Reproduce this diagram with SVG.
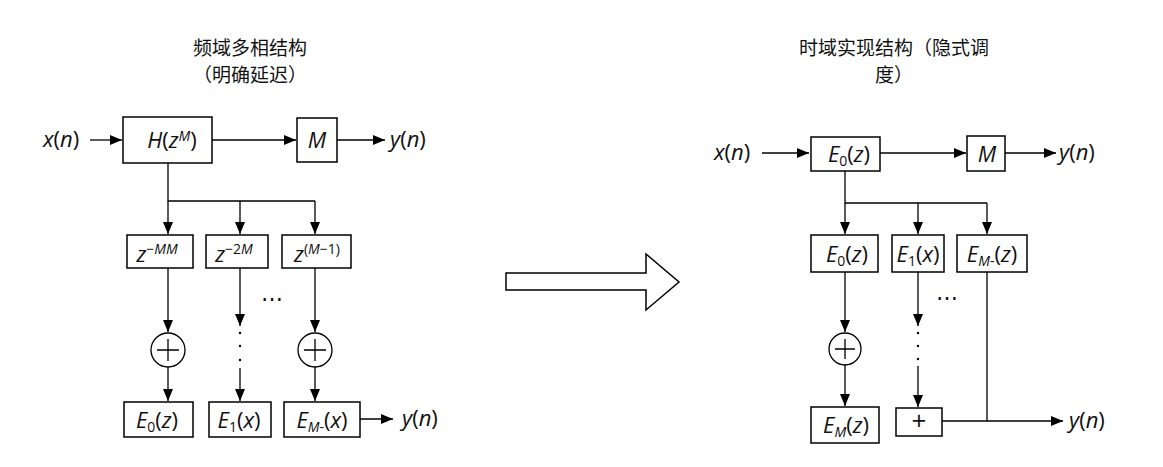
<svg xmlns="http://www.w3.org/2000/svg" width="1163" height="467" viewBox="0 0 1163 467">
<defs>
<marker id="ah" markerUnits="userSpaceOnUse" markerWidth="12" markerHeight="10" refX="12" refY="5" orient="auto">
<path d="M0,0 L12,5 L0,10 z" fill="#000"/>
</marker>
</defs>
<style>
.title{font-family:"Noto Sans CJK SC","Noto Sans",sans-serif;font-size:19px;fill:#111;text-anchor:middle}
.m{font-family:"Open Sans","Liberation Sans",sans-serif;font-size:22px;fill:#111}
.c{text-anchor:middle}
.i{font-style:italic}
.sup{font-size:14px}
.box{fill:#fff;stroke:#000;stroke-width:1.5}
.ln{fill:none;stroke:#000;stroke-width:1.3}
.ar{fill:none;stroke:#000;stroke-width:1.3;marker-end:url(#ah)}
.dot{fill:#000}
</style>

<g id="titles">
<text class="title" x="250" y="55">频域多相结构</text>
<text class="title" x="250" y="82">（明确延迟）</text>
<text class="title" x="894" y="55">时域实现结构（隐式调</text>
<text class="title" x="894" y="82">度）</text>
</g>

<g id="connectors">
<!-- left -->
<line class="ar" x1="90" y1="140" x2="122" y2="140"/>
<line class="ar" x1="212" y1="140" x2="296" y2="140"/>
<line class="ar" x1="337" y1="140" x2="385" y2="140"/>
<polyline class="ln" points="168,163 168,201 315,201"/>
<line class="ar" x1="168" y1="201" x2="168" y2="234"/>
<line class="ar" x1="240" y1="201" x2="240" y2="234"/>
<line class="ar" x1="315" y1="201" x2="315" y2="234"/>
<line class="ar" x1="168" y1="268" x2="168" y2="332"/>
<line class="ar" x1="168" y1="367" x2="168" y2="401"/>
<line class="ar" x1="240" y1="268" x2="240" y2="326"/>
<circle class="dot" cx="240" cy="333" r="1.2"/>
<circle class="dot" cx="240" cy="346" r="1.2"/>
<circle class="dot" cx="240" cy="360" r="1.2"/>
<line class="ar" x1="240" y1="368" x2="240" y2="401"/>
<line class="ar" x1="315" y1="268" x2="315" y2="332"/>
<line class="ar" x1="315" y1="367" x2="315" y2="401"/>
<line class="ar" x1="360" y1="419" x2="393" y2="419"/>
<!-- right -->
<line class="ar" x1="762" y1="153" x2="809" y2="153"/>
<line class="ar" x1="880" y1="153" x2="966" y2="153"/>
<line class="ar" x1="1005" y1="153" x2="1056" y2="153"/>
<polyline class="ln" points="845,171 845,203 987,203"/>
<line class="ar" x1="845" y1="203" x2="845" y2="234"/>
<line class="ar" x1="918" y1="203" x2="918" y2="234"/>
<line class="ar" x1="987" y1="203" x2="987" y2="234"/>
<line class="ar" x1="845" y1="272" x2="845" y2="332"/>
<line class="ar" x1="845" y1="365" x2="845" y2="406"/>
<line class="ar" x1="918" y1="272" x2="918" y2="326"/>
<circle class="dot" cx="918" cy="333" r="1.2"/>
<circle class="dot" cx="918" cy="346" r="1.2"/>
<circle class="dot" cx="918" cy="359" r="1.2"/>
<line class="ar" x1="918" y1="366" x2="918" y2="407"/>
<line class="ln" x1="987" y1="272" x2="987" y2="421"/>
<line class="ar" x1="942" y1="421" x2="1063" y2="421"/>
</g>

<g id="left-io">
<text class="m" x="43" y="147"><tspan class="i">x</tspan>(<tspan class="i">n</tspan>)</text>
<text class="m" x="390" y="147"><tspan class="i">y</tspan>(<tspan class="i">n</tspan>)</text>
<text class="m" x="402" y="426"><tspan class="i">y</tspan>(<tspan class="i">n</tspan>)</text>
</g>

<g id="H">
<rect class="box" x="123" y="117" width="89" height="46"/>
<text class="m c" x="172" y="148"><tspan class="i">H</tspan>(<tspan class="i">z</tspan><tspan class="i sup" dy="-7">M</tspan><tspan dy="7">)</tspan></text>
</g>
<g id="M-left">
<rect class="box" x="297" y="118" width="40" height="44"/>
<text class="m c i" x="317" y="148">M</text>
</g>

<g id="d1">
<rect class="box" x="127" y="235" width="66" height="33"/>
<text class="m c" x="157" y="262"><tspan class="i">z</tspan><tspan class="sup" dy="-8">−</tspan><tspan class="i sup">MM</tspan></text>
</g>
<g id="d2">
<rect class="box" x="206" y="235" width="62" height="33"/>
<text class="m c" x="234" y="262"><tspan class="i">z</tspan><tspan class="sup" dy="-8">−2</tspan><tspan class="i sup">M</tspan></text>
</g>
<g id="d3">
<rect class="box" x="282" y="235" width="69" height="33"/>
<text class="m c" x="317" y="262"><tspan class="i">z</tspan><tspan class="sup" dy="-8">(</tspan><tspan class="i sup">M</tspan><tspan class="sup">−1)</tspan></text>
</g>
<text id="hdots-left" class="m c" x="272" y="306">⋯</text>

<g id="sum-left-1">
<circle cx="168" cy="350" r="17" fill="#fff" stroke="#000" stroke-width="1.3"/>
<path class="ln" d="M157,350 H179 M168,339 V361"/>
</g>
<g id="sum-left-2">
<circle cx="315" cy="350" r="17" fill="#fff" stroke="#000" stroke-width="1.3"/>
<path class="ln" d="M304,350 H326 M315,339 V361"/>
</g>

<g id="e0-left">
<rect class="box" x="124" y="402" width="69" height="35"/>
<text class="m c" x="157" y="428"><tspan class="i">E</tspan><tspan class="sup" dy="4">0</tspan><tspan dy="-4">(</tspan><tspan class="i">z</tspan>)</text>
</g>
<g id="e1-left">
<rect class="box" x="209" y="402" width="62" height="35"/>
<text class="m c" x="239" y="428"><tspan class="i">E</tspan><tspan class="sup" dy="4">1</tspan><tspan dy="-4">(</tspan><tspan class="i">x</tspan>)</text>
</g>
<g id="em-left">
<rect class="box" x="284" y="402" width="76" height="35"/>
<text class="m c" x="322" y="428"><tspan class="i">E</tspan><tspan class="i sup" dy="4">M</tspan><tspan class="sup">-</tspan><tspan dy="-4">(</tspan><tspan class="i">x</tspan>)</text>
</g>

<g id="big-arrow">
<path d="M506,273 H646 V254 L679,282 L646,310 V290 H506 Z" fill="#fff" stroke="#000" stroke-width="1.5"/>
</g>

<g id="right-io">
<text class="m" x="714" y="160"><tspan class="i">x</tspan>(<tspan class="i">n</tspan>)</text>
<text class="m" x="1059" y="160"><tspan class="i">y</tspan>(<tspan class="i">n</tspan>)</text>
<text class="m" x="1069" y="428"><tspan class="i">y</tspan>(<tspan class="i">n</tspan>)</text>
</g>

<g id="e0-top">
<rect class="box" x="811" y="137" width="69" height="34"/>
<text class="m c" x="849" y="162"><tspan class="i">E</tspan><tspan class="sup" dy="4">0</tspan><tspan dy="-4">(</tspan><tspan class="i">z</tspan>)</text>
</g>
<g id="M-right">
<rect class="box" x="967" y="136" width="38" height="35"/>
<text class="m c i" x="987" y="162">M</text>
</g>

<g id="e0-right">
<rect class="box" x="811" y="235" width="67" height="37"/>
<text class="m c" x="847" y="262"><tspan class="i">E</tspan><tspan class="sup" dy="4">0</tspan><tspan dy="-4">(</tspan><tspan class="i">z</tspan>)</text>
</g>
<g id="e1-right">
<rect class="box" x="892" y="235" width="52" height="37"/>
<text class="m c" x="918" y="262"><tspan class="i">E</tspan><tspan class="sup" dy="4">1</tspan><tspan dy="-4">(</tspan><tspan class="i">x</tspan>)</text>
</g>
<g id="em-right">
<rect class="box" x="957" y="235" width="70" height="37"/>
<text class="m c" x="992" y="262"><tspan class="i">E</tspan><tspan class="i sup" dy="4">M</tspan><tspan class="sup">-</tspan><tspan dy="-4">(</tspan><tspan class="i">z</tspan>)</text>
</g>
<text id="hdots-right" class="m c" x="947" y="305">⋯</text>

<g id="sum-right">
<circle cx="845" cy="349" r="16" fill="#fff" stroke="#000" stroke-width="1.3"/>
<path class="ln" d="M835,349 H855 M845,339 V359"/>
</g>
<g id="em-bottom-right">
<rect class="box" x="811" y="407" width="68" height="36"/>
<text class="m c" x="846" y="433"><tspan class="i">E</tspan><tspan class="i sup" dy="4">M</tspan><tspan dy="-4">(</tspan><tspan class="i">z</tspan>)</text>
</g>
<g id="plus-box">
<rect class="box" x="896" y="408" width="46" height="28"/>
<text class="m c" x="919" y="430" style="font-size:26px">+</text>
</g>
</svg>
